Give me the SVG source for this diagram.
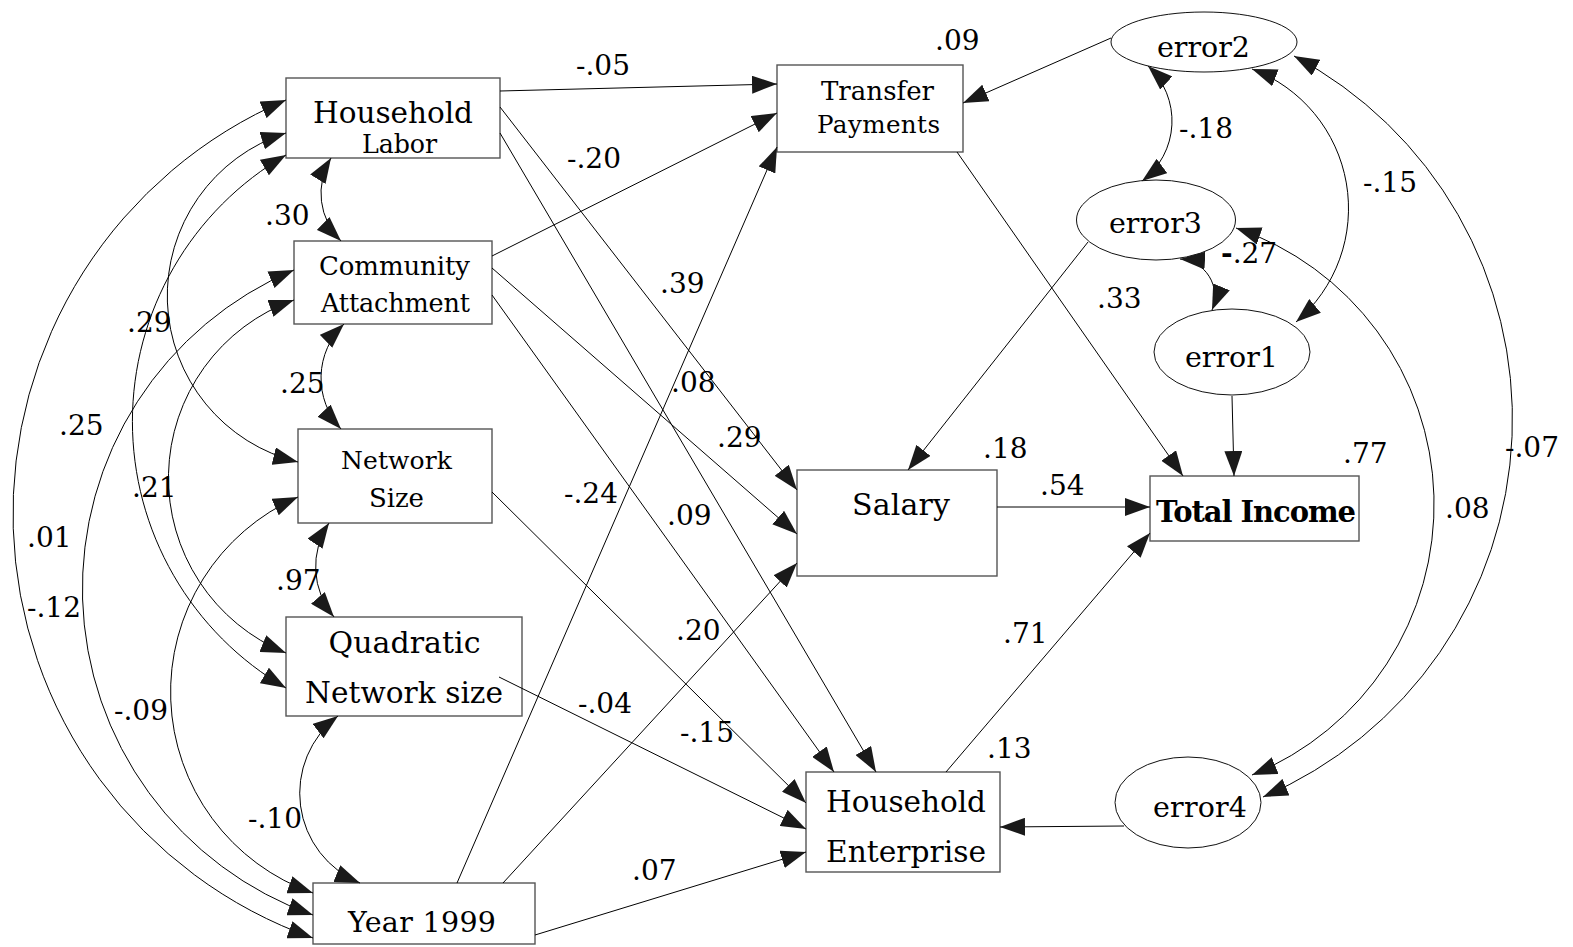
<svg xmlns="http://www.w3.org/2000/svg" width="1573" height="947" viewBox="0 0 1573 947">
<defs>
<style>
.box{fill:#fff;stroke:#555;stroke-width:1.4}
.ell{fill:#fff;stroke:#111;stroke-width:1}
.nt{font-family:"DejaVu Serif","Liberation Serif",serif;fill:#000;text-anchor:middle}
.lb{font-family:"DejaVu Serif","Liberation Serif",serif;font-size:28px;fill:#000}
.c{fill:none;stroke:#000;stroke-width:1;marker-end:url(#ah)}
.cv{fill:none;stroke:#000;stroke-width:1;marker-start:url(#ah);marker-end:url(#ah)}
</style>
<marker id="ah" viewBox="0 0 25 18" refX="25" refY="9" markerWidth="25" markerHeight="18" markerUnits="userSpaceOnUse" orient="auto-start-reverse"><path d="M0,0 L25,9 L0,18 z" fill="#1a1a1a"/></marker>
</defs>
<rect width="1573" height="947" fill="#fff"/>

<g id="household-labor"><rect class="box" x="286" y="78" width="214" height="80"/><text class="nt" x="393" y="123" font-size="29.5" textLength="160">Household</text><text class="nt" x="399.5" y="153" font-size="25.3" textLength="75">Labor</text></g>
<g id="community-attachment"><rect class="box" x="294" y="241" width="198" height="83"/><text class="nt" x="394.5" y="275" font-size="26" textLength="151">Community</text><text class="nt" x="395.5" y="312" font-size="25.5" textLength="149">Attachment</text></g>
<g id="network-size"><rect class="box" x="298" y="429" width="194" height="94"/><text class="nt" x="396.5" y="469" font-size="25" textLength="111">Network</text><text class="nt" x="396.5" y="507" font-size="26" textLength="55">Size</text></g>
<g id="quadratic-network-size"><rect class="box" x="286" y="617" width="236" height="99"/><text class="nt" x="404.5" y="653" font-size="30" textLength="152">Quadratic</text><text class="nt" x="404" y="703" font-size="29.6" textLength="198">Network size</text></g>
<g id="year-1999"><rect class="box" x="313" y="883" width="222" height="61"/><text class="nt" x="422" y="932" font-size="28.5" textLength="148">Year 1999</text></g>
<g id="transfer-payments"><rect class="box" x="777" y="65" width="186" height="87"/><text class="nt" x="877.5" y="100" font-size="26" textLength="113">Transfer</text><text class="nt" x="878.5" y="133" font-size="24.6" textLength="123">Payments</text></g>
<g id="salary"><rect class="box" x="797" y="470" width="200" height="106"/><text class="nt" x="901" y="515" font-size="30" textLength="98">Salary</text></g>
<g id="household-enterprise"><rect class="box" x="806" y="772" width="194" height="100"/><text class="nt" x="906" y="812" font-size="29.5" textLength="160">Household</text><text class="nt" x="906" y="862" font-size="29.7" textLength="160">Enterprise</text></g>
<g id="total-income"><rect class="box" x="1150" y="476" width="209" height="65"/><text class="nt" x="1256" y="522" font-size="29" font-weight="bold" textLength="200">Total Income</text></g>
<g id="error2"><ellipse class="ell" cx="1204" cy="42" rx="93" ry="30"/><text class="nt" x="1203.5" y="57" font-size="28.5" textLength="93">error2</text></g>
<g id="error3"><ellipse class="ell" cx="1156" cy="220" rx="79.5" ry="40"/><text class="nt" x="1155.5" y="233" font-size="28.5" textLength="93">error3</text></g>
<g id="error1"><ellipse class="ell" cx="1232" cy="352" rx="78" ry="43"/><text class="nt" x="1231.5" y="367" font-size="28.5" textLength="93">error1</text></g>
<g id="error4"><ellipse class="ell" cx="1188" cy="802.5" rx="73" ry="45.5"/><text class="nt" x="1200" y="817" font-size="28.5" textLength="94">error4</text></g>

<g id="connectors">
<path class="c" d="M500,91 L777,84"/>
<path class="c" d="M492,256 L777,113"/>
<path class="c" d="M457,883 L777,147"/>
<path class="c" d="M500,107 L797,490"/>
<path class="c" d="M492,268 L797,534"/>
<path class="c" d="M503,883 L797,563"/>
<path class="c" d="M500,133 L876,772"/>
<path class="c" d="M492,295 L834,772"/>
<path class="c" d="M492,492 L806,803"/>
<path class="c" d="M499,677 L806,829"/>
<path class="c" d="M535,935 L806,852"/>
<path class="c" d="M957,152 L1183,476"/>
<path class="c" d="M997,507 L1150,507"/>
<path class="c" d="M946,772 L1150,533"/>
<path class="c" d="M1232,396 L1234,476"/>
<path class="c" d="M1111,38 L963,103"/>
<path class="c" d="M1088,242 L908,470"/>
<path class="c" d="M1124,826 L1000,827"/>
<path class="cv" d="M331,158 A67,67 0 0 0 341,241"/>
<path class="cv" d="M344,324 A75,75 0 0 0 341,429"/>
<path class="cv" d="M329,523 A78,78 0 0 0 334,617"/>
<path class="cv" d="M338,716 A97,97 0 0 0 360,883"/>
<path class="cv" d="M286,133 A171,171 0 0 0 298,462"/>
<path class="cv" d="M286,155 A308,308 0 0 0 286,688"/>
<path class="cv" d="M294,300 A189,189 0 0 0 286,653"/>
<path class="cv" d="M294,270 A346,346 0 0 0 313,915"/>
<path class="cv" d="M286,100 A450,450 0 0 0 313,938"/>
<path class="cv" d="M298,497 A213,213 0 0 0 313,893"/>
<path class="cv" d="M1148,66 A75,75 0 0 1 1142,181"/>
<path class="cv" d="M1252,69 A149,149 0 0 1 1296,322"/>
<path class="cv" d="M1180,259 A37,37 0 0 1 1212,310"/>
<path class="cv" d="M1236,228 A292,292 0 0 1 1252,775"/>
<path class="cv" d="M1294,56 A411,411 0 0 1 1263,797"/>
</g>

<g id="labels">
<text class="lb" x="576" y="75">-.05</text>
<text class="lb" x="567" y="168">-.20</text>
<text class="lb" x="660" y="293">.39</text>
<text class="lb" x="935" y="50">.09</text>
<text class="lb" x="671" y="392">.08</text>
<text class="lb" x="717" y="447">.29</text>
<text class="lb" x="564" y="503">-.24</text>
<text class="lb" x="667" y="525">.09</text>
<text class="lb" x="983" y="458">.18</text>
<text class="lb" x="676" y="640">.20</text>
<text class="lb" x="578" y="713">-.04</text>
<text class="lb" x="680" y="742">-.15</text>
<text class="lb" x="632" y="880">.07</text>
<text class="lb" x="987" y="758">.13</text>
<text class="lb" x="1003" y="643">.71</text>
<text class="lb" x="1040" y="495">.54</text>
<text class="lb" x="1343" y="463">.77</text>
<text class="lb" x="1097" y="308">.33</text>
<text class="lb" x="1179" y="138">-.18</text>
<text class="lb" x="1363" y="192">-.15</text>
<text class="lb" x="1221" y="263"><tspan font-weight="bold">-</tspan>.27</text>
<text class="lb" x="1445" y="518">.08</text>
<text class="lb" x="1505" y="457">-.07</text>
<text class="lb" x="265" y="225">.30</text>
<text class="lb" x="127" y="332">.29</text>
<text class="lb" x="280" y="393">.25</text>
<text class="lb" x="59" y="435">.25</text>
<text class="lb" x="132" y="497">.21</text>
<text class="lb" x="27" y="547">.01</text>
<text class="lb" x="27" y="617">-.12</text>
<text class="lb" x="276" y="590">.97</text>
<text class="lb" x="114" y="720">-.09</text>
<text class="lb" x="248" y="828">-.10</text>
</g>
</svg>
